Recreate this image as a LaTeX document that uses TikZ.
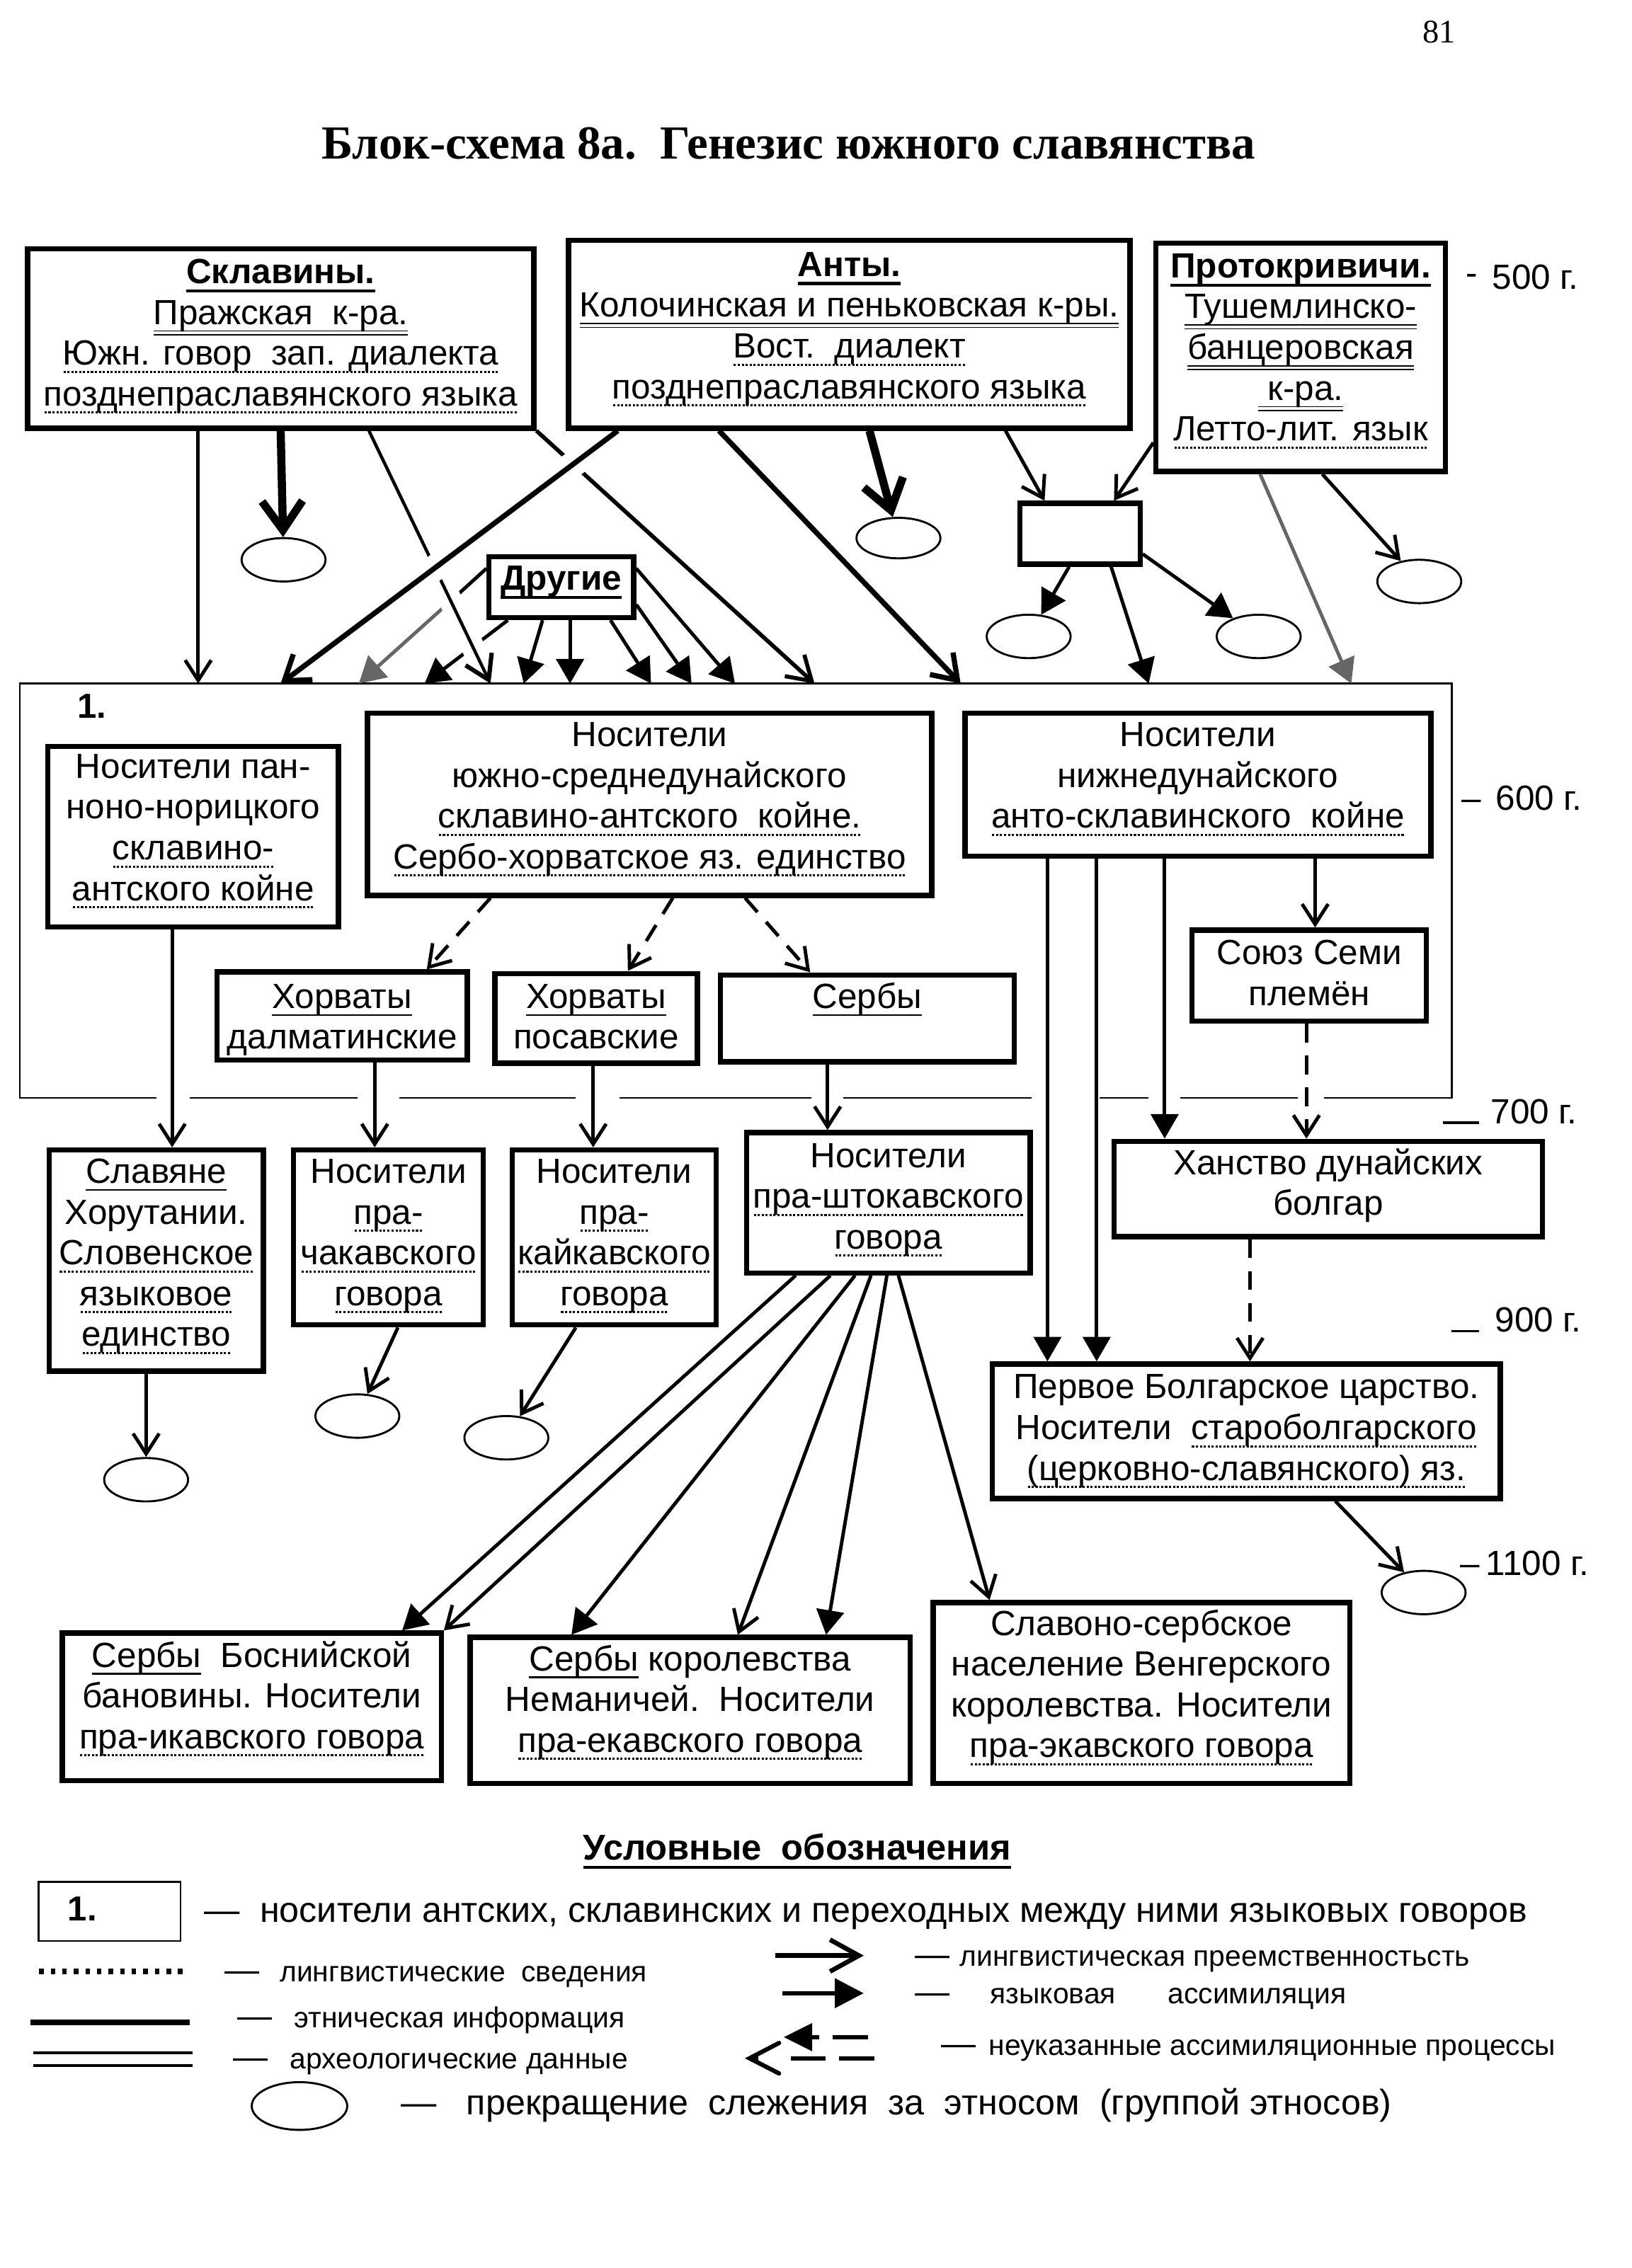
\documentclass[tikz,border=0pt]{standalone}
\usepackage{fontspec}
\setmainfont{Liberation Sans}
\newfontfamily\seriffont{Liberation Serif}
\usetikzlibrary{arrows.meta,shapes.geometric}
\newlength\upx \setlength\upx{0.5pt}
\newsavebox\ulbox
\newcommand\bx[4]{\parbox[c][#2\upx][t]{#1\upx}{\centering\rule{0pt}{#3\upx}#4\par}}
\newcommand\su[1]{\leavevmode\sbox\ulbox{#1}\rlap{\rule[-2.6pt]{\wd\ulbox}{0.55pt}}\usebox\ulbox}
\newcommand\bu[1]{\leavevmode\sbox\ulbox{#1}\rlap{\rule[-3pt]{\wd\ulbox}{1pt}}\usebox\ulbox}
\newcommand\du[1]{\leavevmode\sbox\ulbox{#1}\rlap{\rule[-2.5pt]{\wd\ulbox}{0.45pt}}\rlap{\rule[-3.8pt]{\wd\ulbox}{0.45pt}}\usebox\ulbox}
\newcommand\dtu[1]{\leavevmode\sbox\ulbox{#1}\rlap{\lower2.7pt\hbox to\wd\ulbox{\xleaders\hbox{\kern0.3pt\rule{0.75pt}{0.75pt}\kern0.3pt}\hfill}}\usebox\ulbox}
\definecolor{arrgray}{gray}{0.4}
\begin{document}
\begin{tikzpicture}[x=0.5pt, y=-0.5pt, font=\fontsize{12.1}{14.1}\selectfont,
  box/.style={draw, line width=1.8pt, inner sep=0pt},
  ell/.style={draw, ellipse, line width=0.7pt, inner sep=0pt, minimum width=58\upx, minimum height=30\upx},
  con/.style={line width=1.2pt},
  oa/.style={con, -{Straight Barb[length=7pt,width=9pt]}},
  fa/.style={con, -{Triangle[length=8.5pt,width=9.5pt]}},
  da/.style={oa, dash pattern=on 6.5pt off 4.5pt},
  tka/.style={line width=1.8pt, -{Straight Barb[length=8pt,width=11pt]}},
  vtka/.style={line width=2.8pt, -{Straight Barb[length=10pt,width=14pt]}},
  yr/.style={anchor=base west, inner sep=0pt},
  lg/.style={anchor=base west, inner sep=0pt, font=\fontsize{10}{12}\selectfont},
  lgb/.style={anchor=base west, inner sep=0pt, font=\fontsize{12.3}{14}\selectfont}]
\fill[white] (0,0) rectangle (1128,1568);
\useasboundingbox (0,0) rectangle (1128,1568);

% header
\node[anchor=base east, inner sep=0pt, font=\seriffont\fontsize{11.4}{13}\selectfont] (pagenum) at (1006.6,29.4) {81};
\node[anchor=base, inner sep=0pt, font=\seriffont\bfseries\fontsize{16.4}{18}\selectfont] (title) at (545,109.7) {Блок-схема 8а.\ \ Генезис южного славянства};

% top boxes
\node[box] (skl) at (194,234) {\bx{350}{124}{24}{\textbf{\bu{Склавины.}}\\ \du{Пражская~~к-ра.}\\ \dtu{Южн. говор~~зап. диалекта}\\ \dtu{позднепраславянского языка}}};
\node[box] (anty) at (587,231) {\bx{388}{130}{25}{\textbf{\bu{Анты.}}\\ \du{Колочинская и пеньковская к-ры.}\\ \dtu{Вост.~~диалект}\\ \dtu{позднепраславянского языка}}};
\node[box] (prot) at (899,247) {\bx{200}{158}{24}{\textbf{\bu{Протокривичи.}}\\ \du{Тушемлинско-}\\ \du{банцеровская}\\ \du{~к-ра.}\\ \dtu{Летто-лит. язык}}};
\node[box, minimum width=83\upx, minimum height=42\upx] (sbox) at (746.5,369) {};
\node[box] (drug) at (388,406) {\bx{100}{42}{23}{\textbf{\bu{Другие}}}};

% ellipses top
\node[ell] (e1) at (196,387) {};
\node[ell, minimum height=28\upx] (e2) at (621,372) {};
\node[ell] (e3) at (711,440) {};
\node[ell] (e4) at (870,440) {};
\node[ell] (e5) at (981,402) {};

% years
\node[yr] (y500) at (1013,200) {\raisebox{1.5pt}{-}\hspace{5pt}500 г.};
\node[yr] (y600) at (1010,560) {–\hspace{5pt}600 г.};
\node[yr] (y700) at (997,777) {\rule{12.5pt}{0.8pt}\hspace{4pt}700 г.};
\node[yr] (y900) at (1003,921) {\rule{9.5pt}{0.8pt}\hspace{5.5pt}900 г.};
\node[yr] (y1100) at (1009,1089) {–\hspace{2pt}1100 г.};

% frame 1
\node[inner sep=0pt, minimum width=989\upx, minimum height=286\upx] (frame) at (508.5,616) {};
\draw[line width=0.6pt] (frame.south west) -- (frame.north west) -- (frame.north east) -- (frame.south east);
\draw[line width=0.6pt] (14,759) -- (108,759) (131,759) -- (247,759) (276,759) -- (398,759)
  (428,759) -- (561,759) (583,759) -- (713,759) (760,759) -- (794,759) (816,759) -- (897,759) (915,759) -- (1003,759);
\node[anchor=base west, inner sep=0pt, font=\bfseries\fontsize{12}{14}\selectfont] (framenum) at (53,496.5) {1.};

% inner boxes
\node[box] (pan) at (133.5,578.5) {\bx{201}{125}{22}{Носители пан-\\ ноно-норицкого\\ \dtu{склавино-}\\ \dtu{антского койне}}};
\node[box] (ysd) at (449,556) {\bx{390}{126}{23}{Носители\\ южно-среднедунайского\\ \dtu{склавино-антского~~койне.}\\ \dtu{Сербо-хорватское яз. единство}}};
\node[box] (nd) at (828,542.5) {\bx{322}{99}{23}{Носители\\ нижнедунайского\\ \dtu{анто-склавинского~~койне}}};
\node[box] (hd) at (236.5,702.5) {\bx{173}{61}{25}{\su{Хорваты}\\ далматинские}};
\node[box] (hp) at (412,704) {\bx{140}{62}{24}{\su{Хорваты}\\ посавские}};
\node[box] (serb) at (599.5,704) {\bx{203}{60}{23}{\su{Сербы}}};
\node[box] (soyuz) at (905,674.5) {\bx{162}{63}{24}{Союз Семи\\ племён}};

% lower boxes
\node[box] (slav) at (108,871.5) {\bx{148}{153}{23}{\su{Славяне}\\ Хорутании.\\ \dtu{Словенское}\\ \dtu{языковое}\\ \dtu{единство}}};
\node[box] (chak) at (268.5,855.5) {\bx{131}{121}{23}{Носители\\ \dtu{пра-}\\ \dtu{чакавского}\\ \dtu{говора}}};
\node[box] (kaik) at (424.5,855.5) {\bx{141}{121}{23}{Носители\\ \dtu{пра-}\\ \dtu{кайкавского}\\ \dtu{говора}}};
\node[box] (shto) at (614,831.5) {\bx{196}{97}{24}{Носители\\ \dtu{пра-штокавского}\\ \dtu{говора}}};
\node[box] (khan) at (918,822) {\bx{296}{66}{23}{Ханство дунайских\\ болгар}};
\node[box] (perv) at (861.5,989.5) {\bx{351}{93}{24}{Первое Болгарское царство.\\ Носители~~\dtu{староболгарского}\\ \dtu{(церковно-славянского) яз.}}};
\node[box] (bos) at (174,1180) {\bx{262}{102}{23.5}{\su{Сербы}~~Боснийской\\ бановины. Носители\\ \dtu{пра-икавского говора}}};
\node[box] (nem) at (477,1182.5) {\bx{304}{101}{23}{\su{Сербы} королевства\\ Неманичей.~~Носители\\ \dtu{пра-екавского говора}}};
\node[box] (slavono) at (789,1170.5) {\bx{288}{125}{22.5}{Славоно-сербское\\ население Венгерского\\ королевства. Носители\\ \dtu{пра-экавского говора}}};

\node[ell] (e6) at (101,1023) {};
\node[ell] (e7) at (247,979) {};
\node[ell] (e8) at (350,994) {};
\node[ell] (e9) at (984,1101) {};

% ---- connectors: Drugie
\coordinate (ga) at (311,416);
\draw[con] (drug.west |- 0,393) -- (ga);
\draw[con, arrgray, -{Triangle[length=9pt,width=10pt]}] (ga) -- (248,0 |- frame.north);
\draw[fa] (351,0 |- drug.south) -- (293.5,0 |- frame.north);
\draw[fa] (375,0 |- drug.south) -- (362,0 |- frame.north);
\draw[fa] (394,0 |- drug.south) -- (394,0 |- frame.north);
\draw[fa] (422,0 |- drug.south) -- (450,0 |- frame.north);
\draw[fa] (drug.east |- 0,418) -- (478,0 |- frame.north);
\draw[fa] (drug.east |- 0,393) -- (508,0 |- frame.north);

% Sklaviny
\draw[oa] (137,0 |- skl.south) -- (137,0 |- frame.north);
\draw[vtka] (194,0 |- skl.south) -- (e1);
\draw[line width=1.1pt, -{Straight Barb[length=8pt,width=10pt,line width=1.5pt]},
  preaction={draw=white, line width=8pt, arrows=-, shorten <=55pt, shorten >=8pt}]
  (255,0 |- skl.south) -- (339,0 |- frame.north);
\draw[line width=1.4pt, -{Straight Barb[length=8pt,width=10pt]}] (skl.south east) -- (563,0 |- frame.north);

% Anty
\draw[tka, preaction={draw=white, line width=9pt, arrows=-, shorten <=13pt, shorten >=40pt}]
  (427,0 |- anty.south) -- (194,0 |- frame.north);
\draw[tka] (497,0 |- anty.south) -- (664,0 |- frame.north);
\draw[vtka] (601,0 |- anty.south) -- (e2);
\draw[oa] (695,0 |- anty.south) -- (722,0 |- sbox.north);

% Protokrivichi and small box
\draw[oa] (prot.west |- 0,306) -- (770,0 |- sbox.north);
\draw[fa] (739,0 |- sbox.south) -- (e3);
\draw[fa] (768,0 |- sbox.south) -- (794,0 |- frame.north);
\draw[fa] (sbox.east |- 0,383) -- (e4);
\draw[con, arrgray, -{Triangle[length=8.5pt,width=9.5pt]}] (871,0 |- prot.south) -- (934,0 |- frame.north);
\draw[oa] (914,0 |- prot.south) -- (e5);

% inside frame
\draw[da] (339,0 |- ysd.south) -- (295,0 |- hd.north);
\draw[da] (465,0 |- ysd.south) -- (434,0 |- hp.north);
\draw[da] (515,0 |- ysd.south) -- (560,0 |- serb.north);
\draw[oa] (119,0 |- pan.south) -- (119,0 |- slav.north);
\draw[oa] (259,0 |- hd.south) -- (259,0 |- chak.north);
\draw[oa] (410,0 |- hp.south) -- (410,0 |- kaik.north);
\draw[oa] (572,0 |- serb.south) -- (572,0 |- shto.north);
\draw[fa] (724,0 |- nd.south) -- (724,0 |- perv.north);
\draw[fa] (758,0 |- nd.south) -- (758,0 |- perv.north);
\draw[fa] (805,0 |- nd.south) -- (805,0 |- khan.north);
\draw[oa] (909,0 |- nd.south) -- (909,0 |- soyuz.north);
\draw[da] (903,0 |- soyuz.south) -- (903,0 |- khan.north);
\draw[da] (864,0 |- khan.south) -- (864,0 |- perv.north);

% to ellipses
\draw[oa] (101,0 |- slav.south) -- (e6);
\draw[oa] (275,0 |- chak.south) -- (e7);
\draw[oa] (398,0 |- kaik.south) -- (e8);
\draw[oa] (923,0 |- perv.south) -- (e9);

% from pra-shtokavian
\draw[fa] (550,0 |- shto.south) -- (278,0 |- bos.north);
\draw[oa] (574,0 |- shto.south) -- (bos.north east);
\draw[fa] (591,0 |- shto.south) -- (395,0 |- nem.north);
\draw[oa] (602,0 |- shto.south) -- (510,0 |- nem.north);
\draw[fa] (613,0 |- shto.south) -- (571,0 |- nem.north);
\draw[oa] (621,0 |- shto.south) -- (684,0 |- slavono.north);

% ---- legend
\node[anchor=base, inner sep=0pt, font=\bfseries\fontsize{12.4}{14}\selectfont] (legt) at (551,1286) {\bu{Условные~~обозначения}};
\node[draw, line width=0.6pt, inner sep=0pt, minimum width=98\upx, minimum height=41\upx] (legbox) at (75.75,1321.5) {};
\node[anchor=base west, inner sep=0pt, font=\bfseries\fontsize{12}{14}\selectfont] (legboxnum) at (46.5,1328) {1.};
\node[lgb] (leg1) at (141,1329) {—\ \ носители антских, склавинских и переходных между ними языковых говоров};
\draw[line width=2pt, dash pattern=on 1.6pt off 2.4pt] (27,1363) -- (129,1363);
\node[lg] (leg2) at (155,1370) {{\fontsize{12}{14}\selectfont —}\hspace{7pt}лингвистические\ \ сведения};
\draw[line width=2pt] (21,1398) -- (131,1398);
\node[lg] (leg3) at (164,1402) {{\fontsize{12}{14}\selectfont —}\hspace{7.5pt}этническая информация};
\draw[line width=1pt] (23,1419) -- (133,1419) (23,1428) -- (133,1428);
\node[lg] (leg4) at (161,1430) {{\fontsize{12}{14}\selectfont —}\hspace{7.5pt}археологические данные};
\draw[line width=1.6pt, -{Straight Barb[length=10pt,width=11pt]}] (536,1352) -- (597,1352);
\node[lg] (leg5) at (632,1359.5) {{\fontsize{12}{14}\selectfont —}\hspace{3.5pt}лингвистическая преемственностьсть};
\draw[line width=1.6pt, -{Triangle[length=10pt,width=10pt]}] (541,1378) -- (597,1378);
\node[lg] (leg6) at (632,1385) {{\fontsize{12}{14}\selectfont —}\hspace{14pt}языковая\hspace{18pt}ассимиляция};
\fill (541.8,1408.4) -- (561.4,1398.6) -- (561.4,1418.2) -- cycle;
\draw[line width=1.5pt] (561,1408.4) -- (566.3,1408.4) (575.7,1408.4) -- (599.9,1408.4);
\draw[line width=1.5pt, line cap=round, line join=miter] (538.5,1412.4) -- (518.1,1423) -- (538.5,1433.5);
\draw[line width=1.5pt] (519,1423) -- (524,1423) (546.7,1423) -- (570.7,1423) (580,1423) -- (604.6,1423);
\node[lg] (leg7) at (650,1421) {{\fontsize{12}{14}\selectfont —}\hspace{4.5pt}неуказанные ассимиляционные процессы};
\node[ell, minimum width=66\upx, minimum height=33\upx] (legell) at (207,1456) {};
\node[lgb] (leg8) at (277,1462) {—\ \ \ прекращение\ \ слежения\ \ за\ \ этносом\ \ (группой этносов)};
\end{tikzpicture}
\end{document}
